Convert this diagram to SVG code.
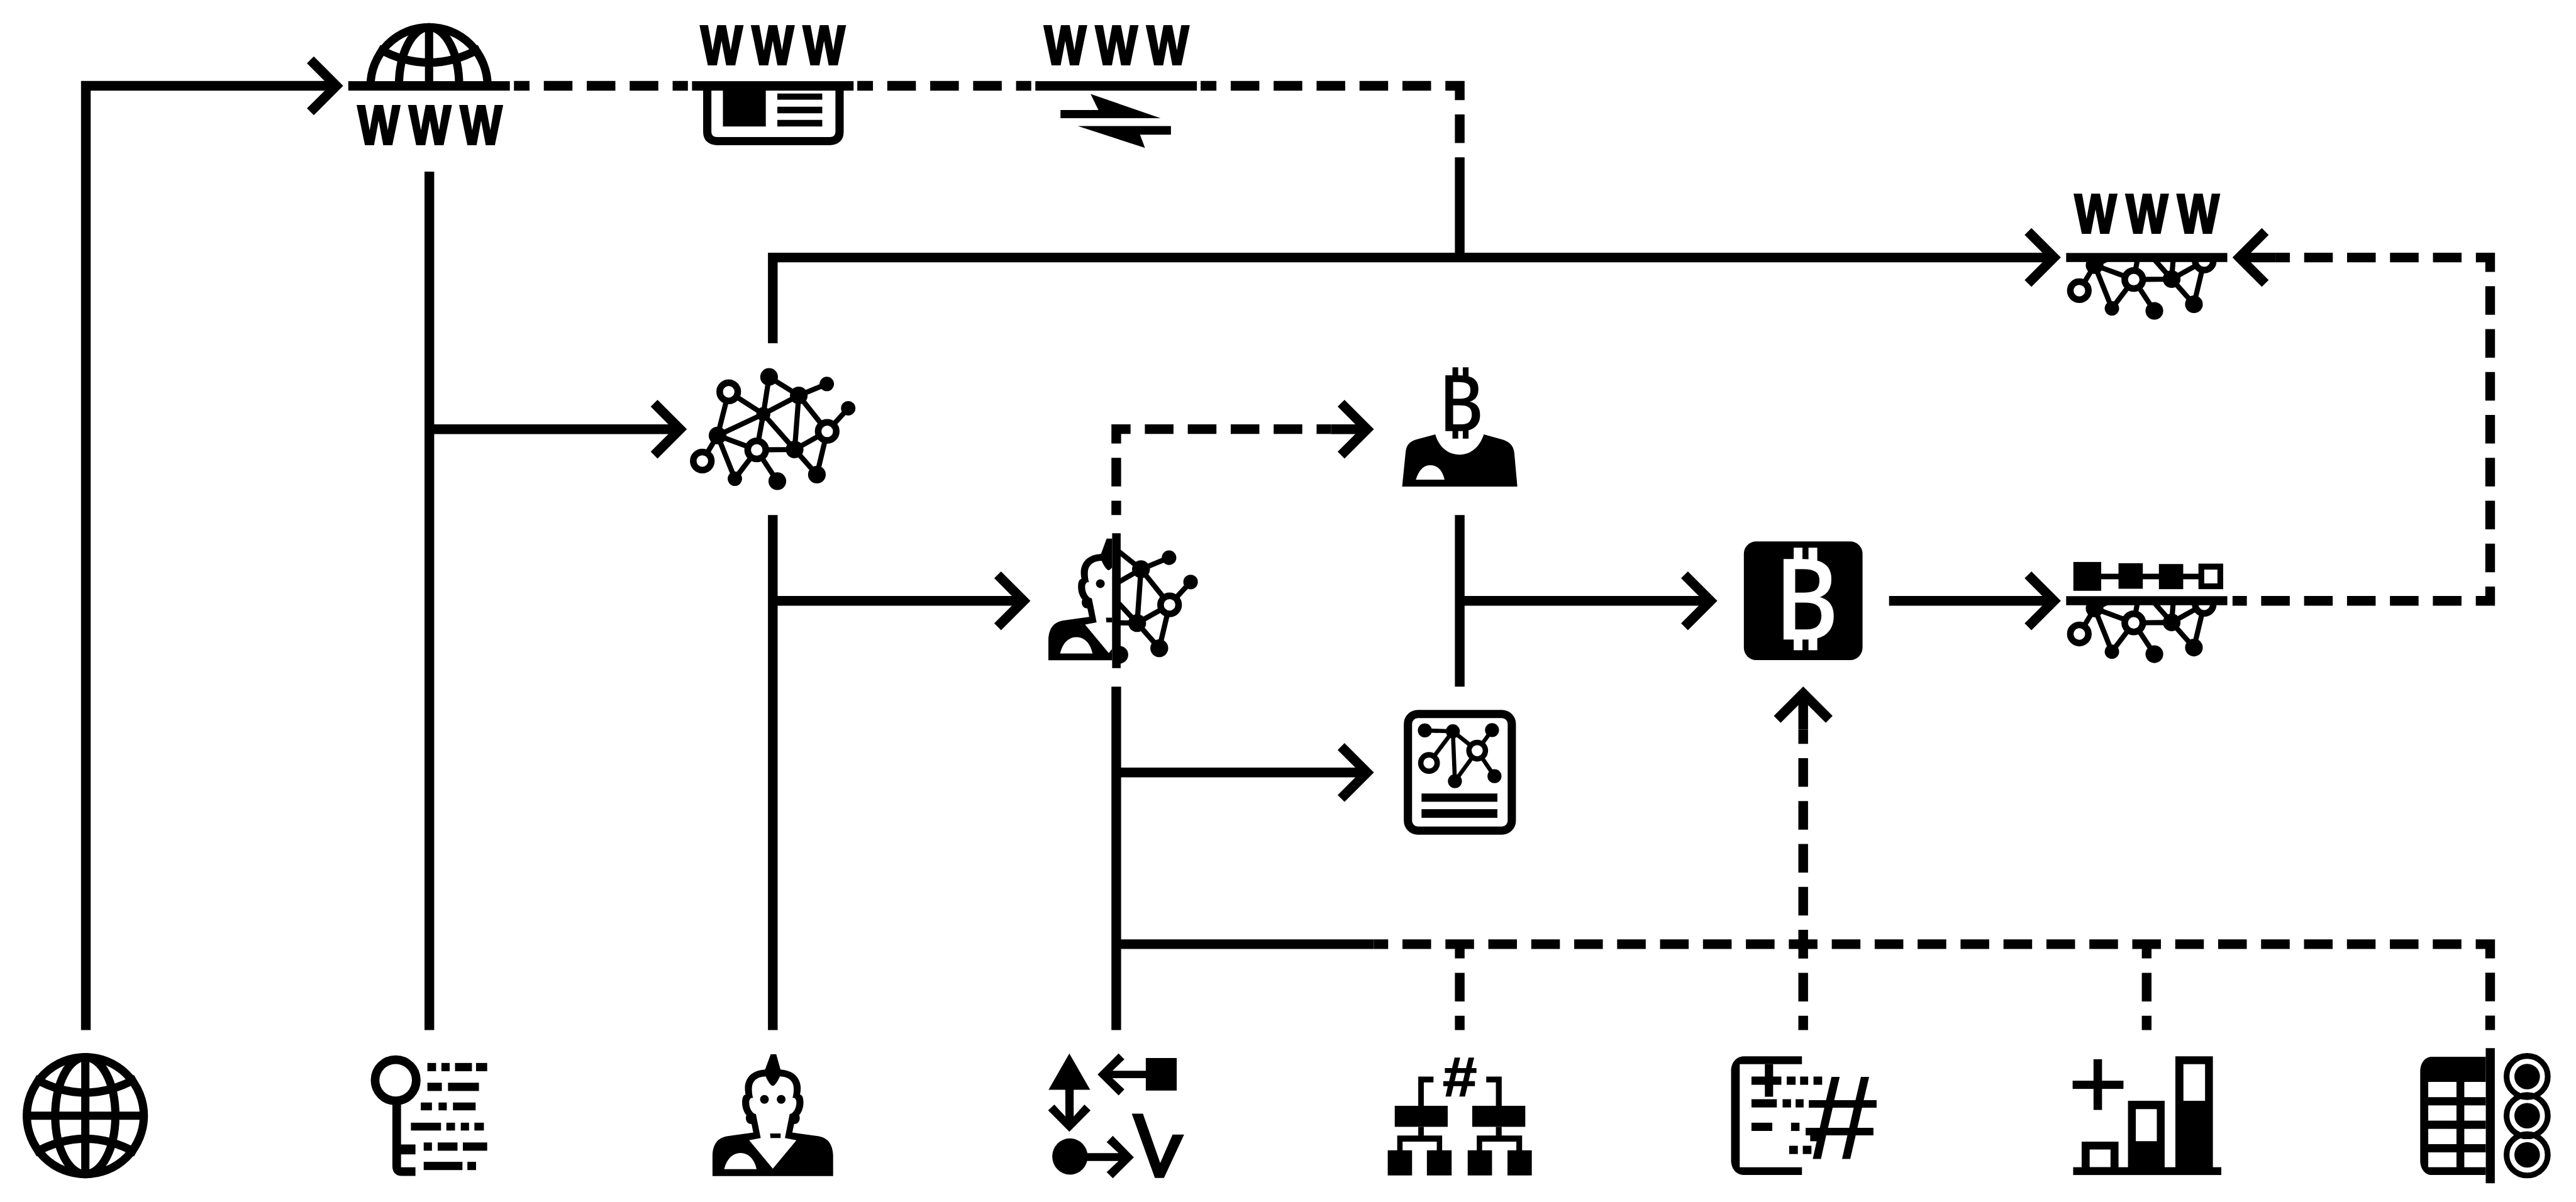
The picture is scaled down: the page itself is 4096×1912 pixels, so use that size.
<svg xmlns="http://www.w3.org/2000/svg" xmlns:xlink="http://www.w3.org/1999/xlink" width="4096" height="1912" viewBox="0 0 4096 1912">
<style>
.l{fill:none;stroke:#000;stroke-width:23.5;stroke-linejoin:miter}
.d{stroke-dasharray:69.44 34.72;stroke-dashoffset:34.72}
.a{marker-end:url(#arrow)}
.k{fill:#000}
.w{fill:#fff}
.e{stroke:#000;stroke-width:12.5;fill:none}
.www{font-family:"Liberation Sans",Arial,sans-serif;font-weight:700;font-size:132px;letter-spacing:29px;fill:#000;stroke:#000;stroke-width:6px}
.hash{font-family:"Liberation Sans",Arial,sans-serif;fill:#000;text-anchor:middle;stroke:#000}
.btc{font-family:"DejaVu Sans","Noto Sans",sans-serif;text-anchor:middle}
</style>
<defs>
<marker id="arrow" markerUnits="userSpaceOnUse" orient="auto" markerWidth="240" markerHeight="240" viewBox="-180 -120 240 240" refX="0" refY="0">
<path d="M-63,-63L0,0L-63,63" fill="none" stroke="#000" stroke-width="23.5"/>
</marker>
<clipPath id="upper"><rect x="-200" y="-200" width="400" height="200"/></clipPath>
<clipPath id="netClipA"><rect x="4980" y="625" width="460" height="160"/></clipPath>
<clipPath id="netClipB"><rect x="4980" y="1458" width="460" height="160"/></clipPath>
<clipPath id="halfPerson"><rect x="200" y="100" width="545" height="1000"/></clipPath>
<g id="globe" fill="none" stroke="#000" stroke-width="20">
<circle r="142"/><ellipse rx="73" ry="142"/><path d="M0,-142V142M-142,0H142M-123,-90Q0,-22 123,-90M-123,90Q0,22 123,90"/>
</g>
<g id="net">
<path class="e" d="M1768,951L1852,1005M1768,951L1741,1057M1866,915L1852,1005M1866,915L1938,960M1938,960L2006,932M1938,960L1852,1005M1938,960L1928,1091M1938,960L2007,1047M2007,1047L2058,991M2007,1047L1928,1091M2007,1047L1982,1152M1852,1005L1741,1057M1852,1005L1836,1092M1852,1005L1928,1091M1741,1057L1836,1092M1741,1057L1704,1119M1741,1057L1783,1162M1836,1092L1783,1162M1836,1092L1886,1168M1836,1092L1928,1091M1928,1091L1982,1152"/>
<g class="k">
<circle cx="1866" cy="915" r="21.5"/><circle cx="1938" cy="960" r="21.5"/><circle cx="2006" cy="932" r="17.5"/><circle cx="2058" cy="991" r="17.5"/><circle cx="1852" cy="1005" r="17"/><circle cx="1928" cy="1091" r="21.5"/><circle cx="1741" cy="1057" r="21.5"/><circle cx="1783" cy="1162" r="17.5"/><circle cx="1886" cy="1168" r="21.5"/><circle cx="1982" cy="1152" r="21.5"/>
</g>
<g fill="#fff" stroke="#000" stroke-width="16">
<circle cx="1768" cy="951" r="22"/><circle cx="2007" cy="1047" r="22"/><circle cx="1836" cy="1092" r="22"/><circle cx="1704" cy="1119" r="22"/>
</g>
</g>
<g id="person">
<path class="k" d="M705,172H745L776,283C870,290 920,340 923,415C923,440 920,455 918,465C940,470 943,500 943,525C943,560 930,595 912,615C922,640 915,680 875,680L862,742L1050,768C1115,778 1155,820 1159,905V1058H281V905C285,820 325,778 390,768L578,742L565,680C525,680 518,640 528,615C510,595 497,560 497,525C497,500 500,470 522,465C520,455 517,440 517,415C520,340 570,290 664,283Z"/>
<path class="w" d="M668,333C600,335 565,370 568,430C568,455 572,475 577,490C560,485 548,500 548,525C548,560 570,605 597,607L632,782L548,798L720,1005L892,798L808,782L843,607C870,605 892,560 892,525C892,500 880,485 863,490C868,475 872,455 872,430C875,370 840,335 772,333C755,370 735,400 720,402C705,400 685,370 668,333Z"/>
<path class="k" d="M700,748H777V782H703Z"/>
<circle class="k" cx="659" cy="500" r="32"/><circle class="k" cx="781" cy="500" r="32"/>
<path class="w" d="M366,1008C385,930 430,890 485,890C540,890 585,930 602,1008Z"/>
</g>
</defs>
<g transform="scale(0.65536)">
<rect x="0" y="0" width="6250" height="2917" fill="#fff"/>
<g id="connectors">
<path class="l a" d="M208.3,2500V208.3H816"/>
<path class="l" d="M1041.7,2500V416.7"/>
<path class="l a" d="M1041.7,1041.7H1650"/>
<path class="l" d="M1875,2500V1250"/>
<path class="l a" d="M1875,1458.3H2483.5"/>
<path class="l" d="M2708.3,2500V1666.7"/>
<path class="l a" d="M2708.3,1875H3316.8"/>
<path class="l" d="M2708.3,2291.7H3333.3"/>
<path class="l" d="M3541.7,1250V1666.7"/>
<path class="l a" d="M3541.7,1458.3H4150"/>
<path class="l a" d="M1875,833.3V625H4983.5"/>
<path class="l" d="M3541.7,416.67V625"/>
<path class="l a" d="M4583.3,1458.3H4983.5"/>
<path class="l a" d="M5520.8,625H5433"/>
<path class="l a" d="M3229.2,1041.7H3316.8"/>
<path class="l a" d="M4375,1771V1683"/>
<path class="l d" d="M1041.7,208.33H3541.7V416.67"/>
<path class="l d" d="M2708.3,1250V1041.67H3229.2"/>
<path class="l d" d="M3333.3,2291.67H6041.7V2500"/>
<path class="l d" d="M3541.7,2291.67V2500"/>
<path class="l d" d="M5208.3,2291.67V2500"/>
<path class="l d" d="M4375,2500V1771"/>
<path class="l d" d="M5416.67,1458.33H6041.7V625H5520.8"/>
</g>
<g id="node-web-top">
<rect class="w" x="836" y="190" width="411" height="36"/>
<use href="#globe" transform="translate(1041,208)" clip-path="url(#upper)"/>
<rect class="k" x="845" y="197" width="392" height="23"/>
<text class="www" transform="translate(1043,349) scale(.81,1)" x="-216" y="0">WWW</text>
</g>
<g id="node-www-news">
<rect class="w" x="1669" y="190" width="411" height="36"/>
<text class="www" transform="translate(1875,155) scale(.81,1)" x="-216" y="0">WWW</text>
<rect class="k" x="1679" y="197" width="392" height="23"/>
<path d="M1716,208V320C1716,335 1725,342.5 1740,342.5H2013C2028,342.5 2037,335 2037,320V208" fill="none" stroke="#000" stroke-width="20"/>
<rect class="k" x="1754" y="218" width="104" height="89"/>
<rect class="k" x="1886" y="227" width="109" height="15"/>
<rect class="k" x="1886" y="259" width="109" height="16"/>
<rect class="k" x="1886" y="291" width="109" height="16"/>
</g>
<g id="node-www-exchange">
<rect class="w" x="2502" y="190" width="411" height="36"/>
<text class="www" transform="translate(2709,155) scale(.81,1)" x="-216" y="0">WWW</text>
<rect class="k" x="2512" y="197" width="392" height="23"/>
<path class="k" d="M2646,228L2816,287H2573V267H2665Z"/>
<path class="k" d="M2615,306H2841V327H2766L2778,359Z"/>
</g>
<g id="node-network">
<use href="#net"/>
</g>
<g id="node-www-network">
<g clip-path="url(#netClipA)"><use href="#net" transform="translate(3341,-413.5)"/></g>
<text class="www" transform="translate(5209,565) scale(.81,1)" x="-216" y="0">WWW</text>
<rect class="k" x="5013" y="614" width="391" height="22"/>
</g>
<g id="node-chain-network">
<g clip-path="url(#netClipB)"><use href="#net" transform="translate(3341,419.8)"/></g>
<rect class="k" x="5013" y="1447" width="391" height="22"/>
<rect class="k" x="5098" y="1392.5" width="240" height="13.5"/>
<rect class="k" x="5030.5" y="1364" width="67.5" height="70"/>
<rect class="k" x="5140" y="1367" width="59" height="62"/>
<rect class="k" x="5238" y="1369" width="59" height="61"/>
<rect class="k" x="5334" y="1368" width="60" height="62"/>
<rect class="w" x="5348" y="1382.5" width="32" height="33.5"/>
</g>
<g id="node-person-network">
<g transform="translate(2450,1250) scale(.33333)">
<g clip-path="url(#halfPerson)"><use href="#person"/></g>
<rect class="k" x="745" y="133" width="62" height="982"/>
<path fill="none" stroke="#000" stroke-width="38" d="M780,255L955,395M955,395L1159,311M955,395L790,490M955,395L1163,654M955,395L927,787M1163,654L1316,488M1163,654L927,787M1163,654L1088,970M927,787L1088,970M927,787L790,785M927,787L790,640"/>
<circle class="k" cx="955" cy="395" r="65"/><circle class="k" cx="1159" cy="311" r="53"/><circle class="k" cx="1316" cy="488" r="53"/><circle class="k" cx="927" cy="787" r="65"/><circle class="k" cx="1088" cy="970" r="65"/><path class="k" d="M797,953A65,65 0 0 1 797,1083H780V953Z"/>
<circle cx="1163" cy="654" r="66" fill="#fff" stroke="#000" stroke-width="48"/>
</g>
</g>
<g id="node-bitcoin-person">
<path class="k" transform="translate(3300,880) scale(.8292,.7524)" d="M123,400L133,290C135,265 145,255 165,248L220,232C230,270 255,297 291,297C327,297 350,270 362,232L415,248C435,255 448,265 451,290L460,400Z"/>
<path class="w" transform="translate(3300,880) scale(.8292,.7524)" d="M163,378C172,345 187,331 205,331C225,331 240,345 247,378Z"/>
<text class="btc k" x="3543" y="1045.5" font-size="187" stroke="#000" stroke-width="2">₿</text>
</g>
<g id="node-document">
<rect x="3416" y="1733" width="252" height="283" rx="24" fill="#fff" stroke="#000" stroke-width="20"/>
<path fill="none" stroke="#000" stroke-width="10" d="M3457,1773L3525,1775M3525,1775L3584,1822M3584,1822L3620,1772M3525,1775L3467,1852M3525,1775L3530,1896M3584,1822L3530,1896M3584,1822L3626,1884"/>
<g class="k"><circle cx="3457" cy="1773" r="17"/><circle cx="3525" cy="1775" r="17"/><circle cx="3620" cy="1772" r="17"/><circle cx="3530" cy="1896" r="17"/><circle cx="3626" cy="1884" r="17"/></g>
<g fill="#fff" stroke="#000" stroke-width="13"><circle cx="3584" cy="1822" r="20"/><circle cx="3467" cy="1852" r="20"/></g>
<rect class="k" x="3449" y="1926" width="184" height="20"/>
<rect class="k" x="3449" y="1964" width="184" height="21"/>
</g>
<g id="node-bitcoin">
<rect class="k" x="4231" y="1314" width="288" height="288" rx="30"/>
<text class="btc w" x="4380" y="1551" font-size="268" stroke="#fff" stroke-width="4">₿</text>
</g>
<g id="node-globe"><use href="#globe" transform="translate(207,2708)"/></g>
<g id="node-key">
<circle cx="960" cy="2622" r="50" fill="none" stroke="#000" stroke-width="21"/>
<path class="k" d="M952,2680V2830C952,2845 960,2854 975,2854H1008V2833H973V2802H1008V2778H973V2680Z"/>
<g class="k">
<rect x="1037" y="2580" width="21" height="20"/><rect x="1071" y="2580" width="20" height="20"/><rect x="1104" y="2580" width="41" height="20"/><rect x="1155" y="2580" width="27" height="20"/>
<rect x="1037" y="2628" width="35" height="20"/><rect x="1087" y="2628" width="75" height="20"/>
<rect x="1021" y="2676" width="27" height="19"/><rect x="1064" y="2676" width="20" height="19"/><rect x="1099" y="2676" width="55" height="19"/>
<rect x="997" y="2725" width="73" height="19"/><rect x="1083" y="2725" width="21" height="19"/><rect x="1118" y="2725" width="20" height="19"/><rect x="1151" y="2725" width="23" height="19"/>
<rect x="1028" y="2773" width="20" height="20"/><rect x="1062" y="2773" width="48" height="20"/><rect x="1123" y="2773" width="59" height="20"/>
<rect x="1028" y="2820" width="94" height="20"/><rect x="1134" y="2820" width="21" height="20"/>
</g>
</g>
<g id="node-person"><use href="#person" transform="translate(1635,2501.7) scale(.33333)"/></g>
<g id="node-arrows" class="k">
<path d="M2594.5,2557L2645,2645H2544Z"/>
<path d="M2584.6,2640H2605V2710L2631,2681L2646,2695L2594.5,2747L2543,2695L2558,2681L2585,2710Z"/>
<path d="M2663,2608L2714,2557L2728,2571L2699,2599H2785V2617H2699L2728,2644L2714,2659Z"/>
<rect x="2780" y="2568" width="75" height="79"/>
<ellipse cx="2596" cy="2807" rx="43" ry="44"/>
<path d="M2751,2809L2700,2757L2685,2772L2714,2799H2630V2818H2714L2685,2845L2700,2860Z"/>
<path d="M2746,2703H2773L2815,2823L2845,2754H2873L2824,2859H2802Z"/>
</g>
<g id="node-hash-tree">
<text class="hash" transform="translate(3542,2661) scale(1.1,1)" font-size="136" font-weight="700" stroke-width="2">#</text>
<g class="k">
<path d="M3441,2613H3478V2627H3454.5V2690H3441Z"/>
<path d="M3643.5,2613H3606V2627H3629.4V2690H3643.5Z"/>
<rect x="3384" y="2684" width="128.5" height="51"/><rect x="3572" y="2684" width="128.7" height="51"/>
<rect x="3441" y="2735" width="13.5" height="22"/><rect x="3629.4" y="2735" width="14" height="22"/>
<path d="M3390,2800V2756H3499V2800H3486V2771H3403V2800Z"/>
<path d="M3583,2800V2756H3693V2800H3679V2771H3596V2800Z"/>
<rect x="3367" y="2792" width="59" height="61"/><rect x="3462" y="2792" width="60" height="61"/><rect x="3561" y="2792" width="59" height="61"/><rect x="3657.5" y="2792" width="59" height="61"/>
</g>
</g>
<g id="node-hash-doc">
<g class="k">
<path d="M4372,2564H4232C4212,2564 4200,2580 4200,2600V2816C4200,2836 4212,2852 4232,2852H4372V2833H4221V2583H4372Z"/>
<rect x="4282" y="2583" width="20" height="79"/>
<rect x="4249.5" y="2613" width="72.5" height="20"/><rect x="4335" y="2613" width="21.5" height="20"/><rect x="4367.5" y="2613" width="19.5" height="20"/><rect x="4400" y="2613" width="21" height="20"/>
<rect x="4249.5" y="2668" width="61.5" height="20"/><rect x="4325" y="2668" width="20.5" height="20"/><rect x="4356.5" y="2668" width="19.5" height="20"/>
<rect x="4249.5" y="2725" width="50.5" height="20"/><rect x="4345.5" y="2725" width="20.5" height="20"/>
<rect x="4392" y="2751" width="21" height="19"/>
<rect x="4341" y="2781" width="21" height="20"/><rect x="4374" y="2781" width="21" height="20"/>
</g>
<text class="hash" transform="translate(4467,2811) scale(1.08,1)" font-size="286" stroke-width="3">#</text>
</g>
<g id="node-bars" class="k">
<rect x="5079.4" y="2571" width="20.6" height="123"/>
<rect x="5028.7" y="2623" width="123.3" height="20"/>
<rect x="5030" y="2833" width="359.4" height="19"/>
<path fill-rule="evenodd" d="M5050.6,2771H5140V2840H5050.6ZM5070,2790V2833H5120.6V2790Z"/>
<path fill-rule="evenodd" d="M5163,2672H5252V2840H5163ZM5182,2692V2770H5233V2692Z"/>
<path fill-rule="evenodd" d="M5278,2564H5369V2840H5278ZM5297.5,2583V2672H5350V2583Z"/>
</g>
<g id="node-table">
<path class="k" d="M6031,2565H5900C5884,2565 5872,2580 5872,2600V2817C5872,2837 5884,2852 5900,2852H6031Z"/>
<rect class="k" x="6031" y="2544" width="22" height="328"/>
<g class="w">
<rect x="5891.5" y="2626" width="68.5" height="37"/><rect x="5979" y="2626" width="52" height="37"/>
<rect x="5891.5" y="2683" width="68.5" height="37"/><rect x="5979" y="2683" width="52" height="37"/>
<rect x="5891.5" y="2740" width="68.5" height="37"/><rect x="5979" y="2740" width="52" height="37"/>
<rect x="5891.5" y="2797" width="68.5" height="36"/><rect x="5979" y="2797" width="52" height="36"/>
</g>
<g fill="none" stroke="#000" stroke-width="14"><circle cx="6131.5" cy="2613" r="50"/><circle cx="6131.5" cy="2708" r="50"/><circle cx="6131.5" cy="2803" r="50"/></g>
<g class="k"><circle cx="6131.5" cy="2613" r="31"/><circle cx="6131.5" cy="2708" r="31"/><circle cx="6131.5" cy="2803" r="31"/></g>
</g>
</g>
</svg>
